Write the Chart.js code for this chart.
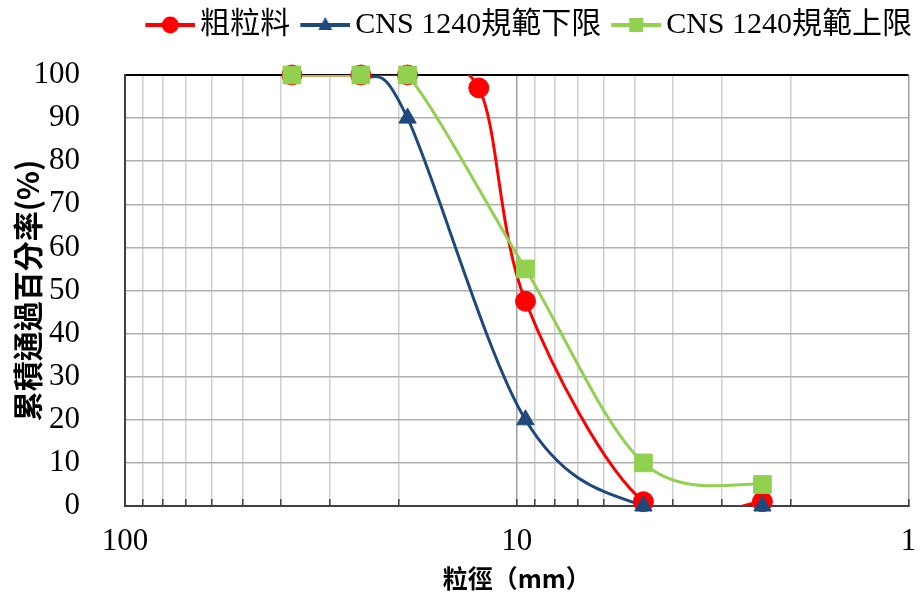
<!DOCTYPE html>
<html>
<head>
<meta charset="utf-8">
<script src="https://cdn.jsdelivr.net/npm/chart.js@4/dist/chart.umd.min.js"></script>
<style>
    html, body { margin: 0; padding: 0; background: #fff; }
</style>
</head>
<body>
<canvas id="graficoGranulometria" width="922" height="600"></canvas>
<script>
// 篩孔尺寸 (mm)
const sieveSizes = [37.5, 25, 19, 12.5, 9.5, 4.75, 2.36];
// 累積通過百分率 (%)
const coarse = [100, 100, 100, 97, 47.5, 1, 1];
const lowerLimit = [100, 100, 90, null, 20, 0, 0];
const upperLimit = [100, 100, 100, null, 55, 10, 5];
// 軸刻度
const xTickLabels = [100, 10, 1];
const yTicks = { min: 0, max: 100, step: 10 };

const seriesNames = ['粗粒料', 'CNS 1240規範下限', 'CNS 1240規範上限'];
const seriesValues = [coarse, lowerLimit, upperLimit];
const seriesColors = ['#ff0000', '#1f497d', '#92d050'];
const seriesMarkers = ['circle', 'triangle', 'rect'];
const markerRadius = [10, 10, 12.5];

const serif = '"Liberation Serif", "Noto Sans CJK TC", serif';
const cjk = '"Noto Sans CJK TC", "Liberation Serif", sans-serif';

// 對數軸只畫 1~9 × 10^n 的格線 (不畫 15)
function isLogGrid(v) {
    const m = v / Math.pow(10, Math.floor(Math.log10(v) + 1e-9));
    return Math.abs(m - Math.round(m)) < 1e-6;
}

// 圖例小圖示: 線段 + 標記 (左側留白 10px, 讓圖示貼近文字)
function legendIcon(color, marker) {
    const c = document.createElement('canvas');
    c.width = 60;
    c.height = 22;
    const g = c.getContext('2d');
    g.strokeStyle = color;
    g.fillStyle = color;
    g.lineWidth = 4;
    g.beginPath();
    g.moveTo(10, 11);
    g.lineTo(60, 11);
    g.stroke();
    g.beginPath();
    if (marker === 'circle') {
        g.arc(35, 11, 8.5, 0, Math.PI * 2);
    } else if (marker === 'triangle') {
        g.moveTo(35, 3);
        g.lineTo(42, 16);
        g.lineTo(28, 16);
        g.closePath();
    } else {
        g.rect(28, 4, 14, 14);
    }
    g.fill();
    return c;
}

// 平滑線: 控制點取 (後一點 - 前一點) / 6
const smoothCurve = {
    id: 'smoothCurve',
    beforeDatasetDraw(chart, args) {
        const meta = args.meta;
        if (meta.type !== 'line' || !meta.dataset) return;
        const pts = meta.data.filter(p => !p.skip);
        pts.forEach((p, k) => {
            const prev = pts[k - 1] || p;
            const next = pts[k + 1] || p;
            const dx = (next.x - prev.x) / 6;
            const dy = (next.y - prev.y) / 6;
            p.cp1x = p.x - dx;
            p.cp1y = p.y - dy;
            p.cp2x = p.x + dx;
            p.cp2y = p.y + dy;
        });
        meta.dataset._pointsUpdated = true;
    }
};

// 圖例下方多留一點空間
const legendGap = {
    id: 'legendGap',
    beforeUpdate(chart) {
        const lg = chart.legend;
        if (lg && !lg._gapPatched) {
            const fit = lg.fit;
            lg.fit = function () {
                fit.call(this);
                this.height += 25;
            };
            lg._gapPatched = true;
        }
    }
};

const datasets = [];
seriesValues.forEach((vals, i) => {
    const pts = sieveSizes.map((s, k) => ({ x: s, y: vals[k] }));
    // 曲線 (裁切於繪圖區內)
    datasets.push({
        type: 'line',
        label: seriesNames[i],
        data: pts,
        spanGaps: true,
        borderColor: seriesColors[i],
        borderWidth: 3,
        tension: 0.5,
        pointRadius: 0,
        fill: false,
        clip: 0,
        order: 6 - i
    });
    // 資料點標記
    datasets.push({
        type: 'scatter',
        label: seriesNames[i] + '_pt',
        data: pts.filter(p => p.y !== null),
        showLine: false,
        pointStyle: seriesMarkers[i],
        pointRadius: markerRadius[i],
        pointBackgroundColor: seriesColors[i],
        pointBorderColor: seriesColors[i],
        pointBorderWidth: 1,
        clip: false,
        order: 3 - i
    });
});

new Chart(document.getElementById('graficoGranulometria'), {
    type: 'scatter',
    data: { datasets },
    plugins: [smoothCurve, legendGap],
    options: {
        responsive: false,
        animation: false,
        devicePixelRatio: 1,
        layout: { padding: 0 },
        plugins: {
            tooltip: { enabled: false },
            legend: {
                position: 'top',
                align: 'end',
                labels: {
                    usePointStyle: true,
                    pointStyleWidth: 40,
                    padding: 10,
                    color: '#000',
                    font: { family: serif, size: 30 },
                    generateLabels: () => seriesNames.map((name, i) => ({
                        text: name,
                        pointStyle: legendIcon(seriesColors[i], seriesMarkers[i]),
                        fillStyle: seriesColors[i],
                        strokeStyle: seriesColors[i],
                        lineWidth: 0,
                        hidden: false,
                        fontColor: '#000',
                        datasetIndex: i * 2
                    }))
                }
            }
        },
        scales: {
            x: {
                type: 'logarithmic',
                reverse: true,
                min: 1,
                max: 100,
                afterFit: (scale) => {
                    scale.height = 94;
                    scale.paddingLeft = 0;
                    scale.paddingRight = 8;
                },
                border: { color: '#404040', width: 2 },
                grid: {
                    color: (ctx) => {
                        const v = ctx.tick && ctx.tick.value;
                        if (!isLogGrid(v)) return 'rgba(0,0,0,0)';
                        return xTickLabels.includes(v) ? '#a0a0a0' : '#cfcfcf';
                    },
                    lineWidth: 1.5,
                    // 刻度線朝內
                    tickLength: -7,
                    tickWidth: 1.5,
                    tickColor: (ctx) => isLogGrid(ctx.tick && ctx.tick.value) ? '#404040' : 'rgba(0,0,0,0)'
                },
                ticks: {
                    autoSkip: false,
                    maxRotation: 0,
                    padding: 1,
                    color: '#000',
                    font: { family: serif, size: 31, lineHeight: '84px' },
                    callback: (v) => xTickLabels.includes(v) ? String(v) : ''
                },
                title: {
                    display: true,
                    text: '粒徑（mm）',
                    color: '#000',
                    font: { family: cjk, size: 25, weight: 'bold' },
                    padding: { top: 0, bottom: 7 }
                }
            },
            y: {
                min: yTicks.min,
                max: yTicks.max,
                afterFit: (scale) => { scale.width = 125; },
                border: { color: '#404040', width: 2 },
                grid: {
                    color: (ctx) => ctx.tick && ctx.tick.value === yTicks.max ? '#000' : '#b0b0b0',
                    lineWidth: (ctx) => ctx.tick && ctx.tick.value === yTicks.max ? 2 : 1.5,
                    drawTicks: false
                },
                ticks: {
                    stepSize: yTicks.step,
                    padding: 45,
                    color: '#000',
                    font: { family: serif, size: 31 }
                },
                title: {
                    display: true,
                    text: '累積通過百分率(%)',
                    color: '#000',
                    font: { family: cjk, size: 30, weight: 'bold' },
                    padding: { top: 10, bottom: 0 }
                }
            }
        }
    }
});
</script>
</body>
</html>
